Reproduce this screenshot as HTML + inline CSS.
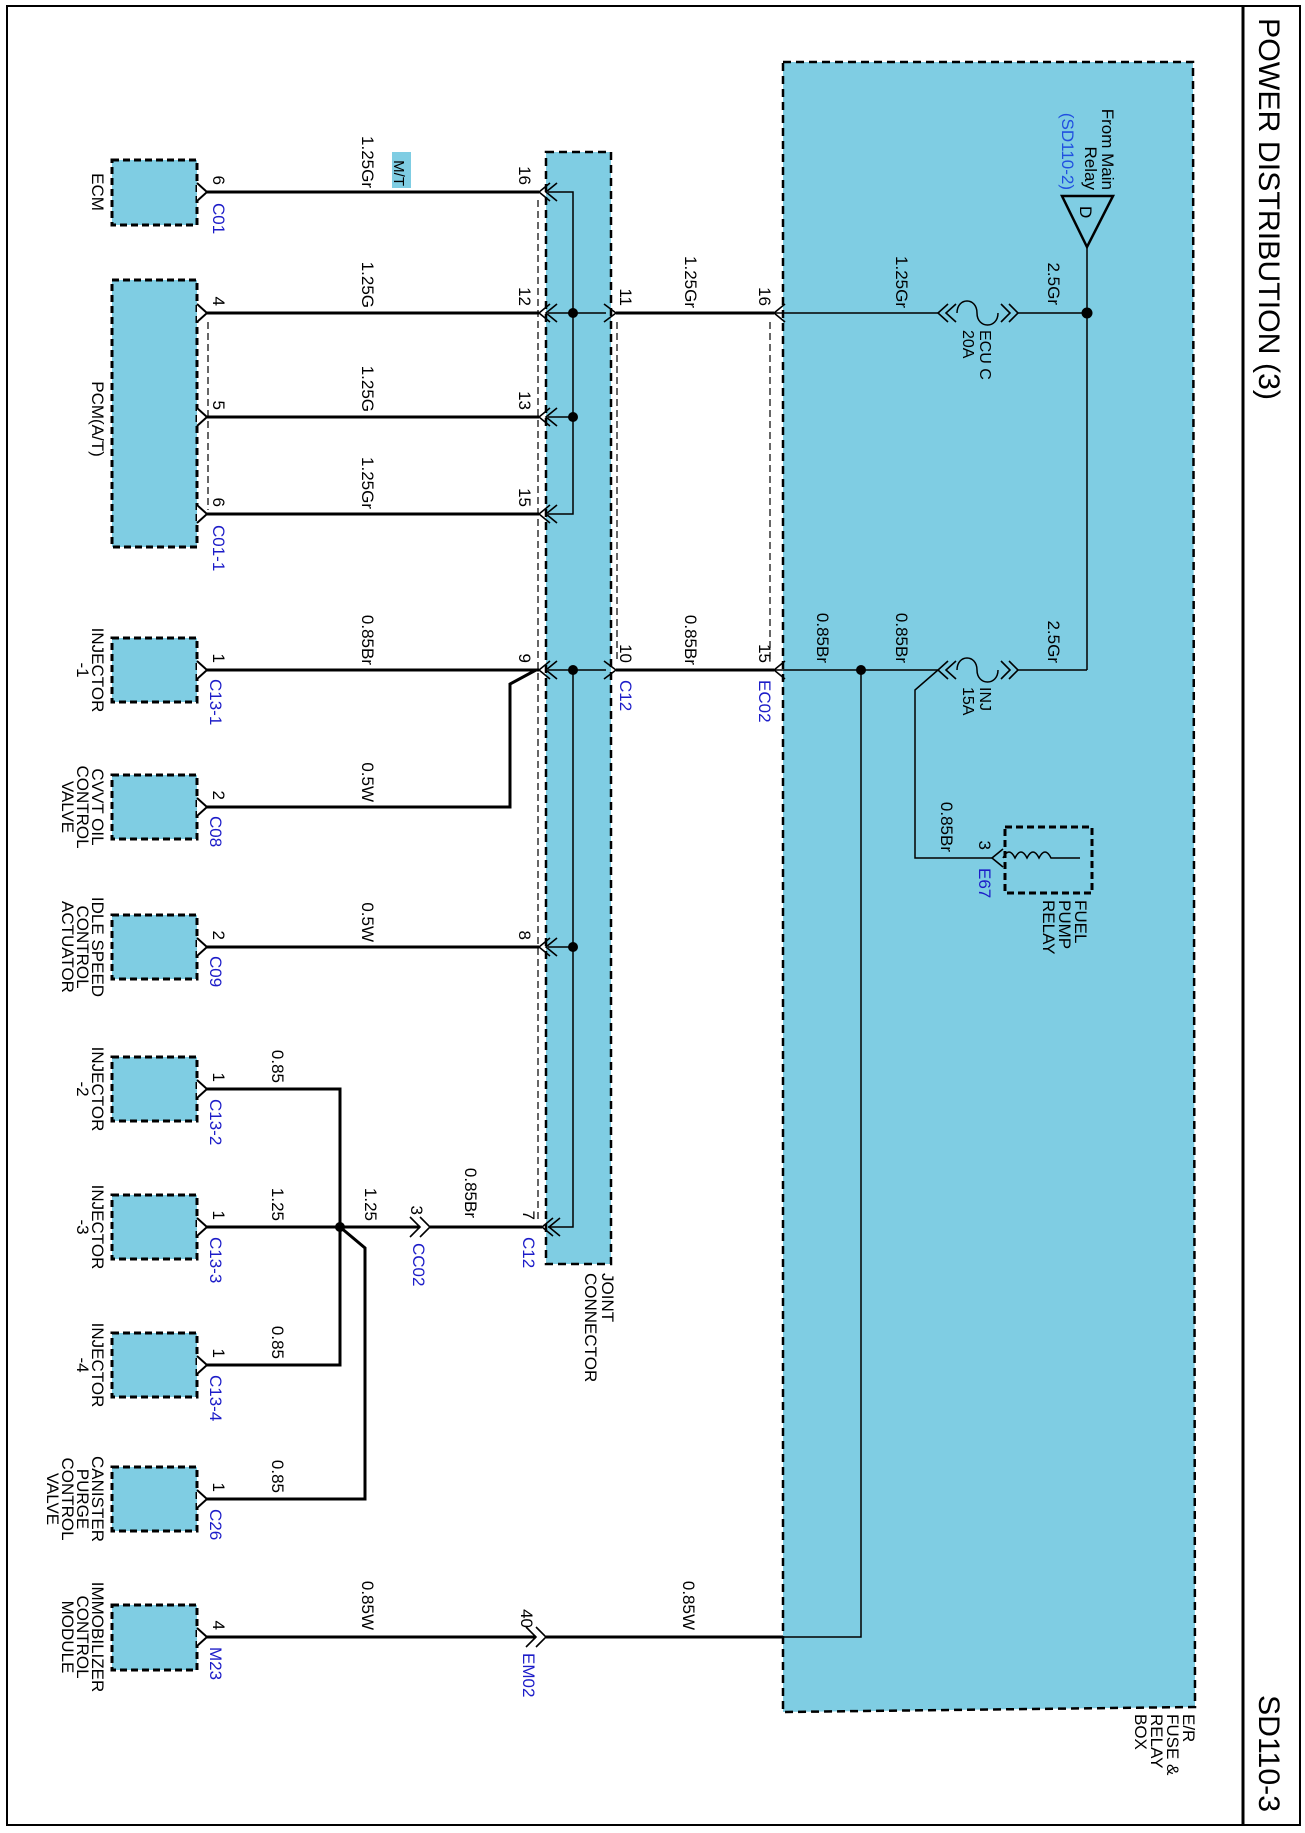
<!DOCTYPE html>
<html><head><meta charset="utf-8"><style>
html,body{margin:0;padding:0;background:#fff}
svg{display:block}
text{font-family:"Liberation Sans",Arial,sans-serif;font-size:17px;fill:#000}
.b{fill:#1c1cc8}
.t{font-size:16px}
</style></head><body>
<svg width="1305" height="1833" viewBox="0 0 1305 1833" xmlns="http://www.w3.org/2000/svg">
<rect x="7" y="6" width="1293" height="1819" fill="none" stroke="#000" stroke-width="2"/>
<line x1="1243" y1="6" x2="1243" y2="1825" stroke="#000" stroke-width="3"/>
<text transform="translate(1259 18) rotate(90)" style="font-size:30px" textLength="382" lengthAdjust="spacingAndGlyphs">POWER DISTRIBUTION (3)</text>
<text transform="translate(1259 1695) rotate(90)" style="font-size:30px" textLength="117" lengthAdjust="spacingAndGlyphs">SD110-3</text>

<polygon points="783,62 1193,62 1195,1707 783,1712" fill="#7fcde3" stroke="#000" stroke-width="2.5" stroke-dasharray="8 5"/>
<g class="t">
<text transform="translate(1183 1714) rotate(90)">E/R</text>
<text transform="translate(1167 1714) rotate(90)">FUSE &amp;</text>
<text transform="translate(1151 1714) rotate(90)">RELAY</text>
<text transform="translate(1135 1714) rotate(90)">BOX</text>
</g>

<rect x="546" y="152" width="65" height="1112" fill="#7fcde3" stroke="#000" stroke-width="2.5" stroke-dasharray="8 5"/>
<text transform="translate(602 1273) rotate(90)">JOINT</text>
<text transform="translate(585 1273) rotate(90)">CONNECTOR</text>

<g stroke="#000" stroke-width="1.2" stroke-dasharray="7 4" fill="none">
<line x1="538" y1="200" x2="538" y2="1220"/>
<line x1="208" y1="322" x2="208" y2="510"/>
<line x1="617" y1="322" x2="617" y2="662"/>
<line x1="770" y1="322" x2="770" y2="662"/>
</g>

<g fill="#7fcde3" stroke="#000" stroke-width="3" stroke-dasharray="7 4">
<rect x="112" y="160" width="85" height="65"/>
<rect x="112" y="280" width="85" height="267"/>
<rect x="112" y="638" width="85" height="64"/>
<rect x="112" y="775" width="85" height="64"/>
<rect x="112" y="915" width="85" height="64"/>
<rect x="112" y="1057" width="85" height="64"/>
<rect x="112" y="1195" width="85" height="64"/>
<rect x="112" y="1333" width="85" height="64"/>
<rect x="112" y="1467" width="85" height="64"/>
<rect x="112" y="1605" width="85" height="65"/>
</g>

<g fill="#fff" stroke="#000" stroke-width="2">
<polyline points="197,183 207,192 197,201"/>
<polyline points="197,304 207,313 197,322"/>
<polyline points="197,408 207,417 197,426"/>
<polyline points="197,505 207,514 197,523"/>
<polyline points="197,661 207,670 197,679"/>
<polyline points="197,798 207,807 197,816"/>
<polyline points="197,938 207,947 197,956"/>
<polyline points="197,1080 207,1089 197,1098"/>
<polyline points="197,1218 207,1227 197,1236"/>
<polyline points="197,1356 207,1365 197,1374"/>
<polyline points="197,1490 207,1499 197,1508"/>
<polyline points="197,1628 207,1637 197,1646"/>
</g>

<g stroke="#000" stroke-width="3" fill="none">
<line x1="207" y1="192" x2="539" y2="192"/>
<line x1="207" y1="313" x2="539" y2="313"/>
<line x1="207" y1="417" x2="539" y2="417"/>
<line x1="207" y1="514" x2="539" y2="514"/>
<line x1="207" y1="670" x2="539" y2="670"/>
<polyline points="207,807 510,807 510,684 536,670"/>
<line x1="207" y1="947" x2="539" y2="947"/>
<polyline points="207,1089 340,1089 340,1365 207,1365"/>
<line x1="207" y1="1227" x2="420" y2="1227"/>
<polyline points="207,1499 365,1499 365,1248 340,1227"/>
<line x1="430" y1="1227" x2="542" y2="1227"/>
<line x1="207" y1="1637" x2="536" y2="1637"/>
<line x1="546" y1="1637" x2="783" y2="1637"/>
<line x1="616" y1="313" x2="774" y2="313"/>
<line x1="616" y1="670" x2="774" y2="670"/>
</g>

<g stroke="#000" stroke-width="1.5" fill="none">
<polyline points="548,192 573,192 573,514 548,514"/>
<line x1="548" y1="313" x2="606" y2="313"/>
<line x1="548" y1="417" x2="573" y2="417"/>
<line x1="548" y1="670" x2="606" y2="670"/>
<polyline points="573,670 573,1227 548,1227"/>
<line x1="548" y1="947" x2="573" y2="947"/>
<line x1="774" y1="313" x2="938" y2="313"/>
<line x1="1017" y1="313" x2="1087" y2="313"/>
<line x1="1087" y1="247" x2="1087" y2="670"/>
<line x1="1017" y1="670" x2="1087" y2="670"/>
<line x1="774" y1="670" x2="938" y2="670"/>
<polyline points="861,670 861,1637 783,1637"/>
<polyline points="938,670 915,690 915,858 992,858"/>
<path d="M957,313 C957,297 977,297 977,313 C977,329 998,329 998,313"/>
<path d="M957,670 C957,654 977,654 977,670 C977,686 998,686 998,670"/>
</g>

<g stroke="#000" stroke-width="1.6" fill="none">
<polyline points="550,183 539,192 550,201"/><polyline points="557,183 546,192 557,201"/>
<polyline points="550,304 539,313 550,322"/><polyline points="557,304 546,313 557,322"/>
<polyline points="550,408 539,417 550,426"/><polyline points="557,408 546,417 557,426"/>
<polyline points="550,505 539,514 550,523"/><polyline points="557,505 546,514 557,523"/>
<polyline points="550,661 539,670 550,679"/><polyline points="557,661 546,670 557,679"/>
<polyline points="550,938 539,947 550,956"/><polyline points="557,938 546,947 557,956"/>
<polyline points="553,1218 542,1227 553,1236"/><polyline points="560,1218 549,1227 560,1236"/>
<polyline points="604,304 616,313 604,322"/>
<polyline points="604,661 616,670 604,679"/>
<polyline points="785,304 774,313 785,322"/>
<polyline points="785,661 774,670 785,679"/>
<polyline points="410,1217 420,1227 410,1237"/><polyline points="420,1217 430,1227 420,1237"/>
<polyline points="526,1627 536,1637 526,1647"/><polyline points="536,1627 546,1637 536,1647"/>
<polyline points="948,304 938,313 948,322"/><polyline points="956,304 946,313 956,322"/>
<polyline points="1001,304 1010,313 1001,322"/><polyline points="1009,304 1018,313 1009,322"/>
<polyline points="948,661 938,670 948,679"/><polyline points="956,661 946,670 956,679"/>
<polyline points="1001,661 1010,670 1001,679"/><polyline points="1009,661 1018,670 1009,679"/>
<polyline points="1003,849 992,858 1003,867"/>
</g>

<g fill="#000">
<circle cx="573" cy="313" r="5"/><circle cx="573" cy="417" r="5"/>
<circle cx="573" cy="670" r="5"/><circle cx="573" cy="947" r="5"/>
<circle cx="340" cy="1227" r="5"/><circle cx="1087" cy="313" r="5.5"/>
<circle cx="861" cy="670" r="5"/>
</g>

<polygon points="1062,196 1113,196 1087,247" fill="none" stroke="#000" stroke-width="2.5"/>
<text transform="translate(1080 206) rotate(90)">D</text>
<text transform="translate(1102 190) rotate(90)" text-anchor="end">From Main</text>
<text transform="translate(1085 190) rotate(90)" text-anchor="end">Relay</text>
<text transform="translate(1062 190) rotate(90)" text-anchor="end" style="fill:#2050e0">(SD110-2)</text>

<rect x="1005" y="827" width="87" height="66" fill="none" stroke="#000" stroke-width="3" stroke-dasharray="7 4"/>
<path d="M1003,858 q6,-12 12,0 q6,-12 12,0 q6,-12 12,0 q6,-12 12,0 L1080,858" fill="none" stroke="#000" stroke-width="1.5"/>
<g class="t">
<text transform="translate(1075 900) rotate(90)">FUEL</text>
<text transform="translate(1059 900) rotate(90)">PUMP</text>
<text transform="translate(1043 900) rotate(90)">RELAY</text>
</g>
<text transform="translate(979 850) rotate(90)" text-anchor="end">3</text>
<text class="b" transform="translate(979 868) rotate(90)">E67</text>
<text transform="translate(941 852) rotate(90)" text-anchor="end">0.85Br</text>

<text class="t" transform="translate(980 330) rotate(90)">ECU C</text>
<text class="t" transform="translate(963 330) rotate(90)">20A</text>
<text class="t" transform="translate(980 687) rotate(90)">INJ</text>
<text class="t" transform="translate(963 687) rotate(90)">15A</text>

<g text-anchor="end">
<text transform="translate(362 188) rotate(90)">1.25Gr</text>
<text transform="translate(362 308) rotate(90)">1.25G</text>
<text transform="translate(362 412) rotate(90)">1.25G</text>
<text transform="translate(362 509) rotate(90)">1.25Gr</text>
<text transform="translate(362 665) rotate(90)">0.85Br</text>
<text transform="translate(362 802) rotate(90)">0.5W</text>
<text transform="translate(362 942) rotate(90)">0.5W</text>
<text transform="translate(272 1083) rotate(90)">0.85</text>
<text transform="translate(272 1221) rotate(90)">1.25</text>
<text transform="translate(272 1359) rotate(90)">0.85</text>
<text transform="translate(272 1493) rotate(90)">0.85</text>
<text transform="translate(365 1221) rotate(90)">1.25</text>
<text transform="translate(465 1218) rotate(90)">0.85Br</text>
<text transform="translate(362 1630) rotate(90)">0.85W</text>
<text transform="translate(685 308) rotate(90)">1.25Gr</text>
<text transform="translate(685 665) rotate(90)">0.85Br</text>
<text transform="translate(683 1630) rotate(90)">0.85W</text>
<text transform="translate(896 308) rotate(90)">1.25Gr</text>
<text transform="translate(1048 305) rotate(90)">2.5Gr</text>
<text transform="translate(1048 663) rotate(90)">2.5Gr</text>
<text transform="translate(817 663) rotate(90)">0.85Br</text>
<text transform="translate(896 663) rotate(90)">0.85Br</text>
</g>
<rect x="392" y="152" width="19" height="36" fill="#7fcde3"/>
<text transform="translate(394 186) rotate(90)" text-anchor="end" style="font-size:15px">M/T</text>

<g text-anchor="end">
<text transform="translate(213 185) rotate(90)">6</text>
<text transform="translate(213 306) rotate(90)">4</text>
<text transform="translate(213 410) rotate(90)">5</text>
<text transform="translate(213 507) rotate(90)">6</text>
<text transform="translate(213 663) rotate(90)">1</text>
<text transform="translate(213 800) rotate(90)">2</text>
<text transform="translate(213 940) rotate(90)">2</text>
<text transform="translate(213 1082) rotate(90)">1</text>
<text transform="translate(213 1220) rotate(90)">1</text>
<text transform="translate(213 1358) rotate(90)">1</text>
<text transform="translate(213 1492) rotate(90)">1</text>
<text transform="translate(213 1630) rotate(90)">4</text>
<text transform="translate(519 185) rotate(90)">16</text>
<text transform="translate(519 306) rotate(90)">12</text>
<text transform="translate(519 410) rotate(90)">13</text>
<text transform="translate(519 507) rotate(90)">15</text>
<text transform="translate(519 663) rotate(90)">9</text>
<text transform="translate(519 940) rotate(90)">8</text>
<text transform="translate(523 1220) rotate(90)">7</text>
<text transform="translate(620 306) rotate(90)">11</text>
<text transform="translate(620 663) rotate(90)">10</text>
<text transform="translate(759 306) rotate(90)">16</text>
<text transform="translate(759 663) rotate(90)">15</text>
<text transform="translate(411 1215) rotate(90)">3</text>
<text transform="translate(521 1628) rotate(90)">40</text>
</g>

<g class="b">
<text class="b" transform="translate(213 203) rotate(90)">C01</text>
<text class="b" transform="translate(213 525) rotate(90)">C01-1</text>
<text class="b" transform="translate(210 679) rotate(90)">C13-1</text>
<text class="b" transform="translate(210 816) rotate(90)">C08</text>
<text class="b" transform="translate(210 956) rotate(90)">C09</text>
<text class="b" transform="translate(210 1099) rotate(90)">C13-2</text>
<text class="b" transform="translate(210 1237) rotate(90)">C13-3</text>
<text class="b" transform="translate(210 1375) rotate(90)">C13-4</text>
<text class="b" transform="translate(210 1509) rotate(90)">C26</text>
<text class="b" transform="translate(210 1647) rotate(90)">M23</text>
<text class="b" transform="translate(620 680) rotate(90)">C12</text>
<text class="b" transform="translate(759 680) rotate(90)">EC02</text>
<text class="b" transform="translate(413 1243) rotate(90)">CC02</text>
<text class="b" transform="translate(523 1237) rotate(90)">C12</text>
<text class="b" transform="translate(523 1653) rotate(90)">EM02</text>
</g>

<g text-anchor="middle">
<text transform="translate(92 192) rotate(90)">ECM</text>
<text transform="translate(92 419) rotate(90)">PCM(A/T)</text>
<text transform="translate(92 670) rotate(90)">INJECTOR</text>
<text transform="translate(77 670) rotate(90)">-1</text>
<text transform="translate(92 807) rotate(90)">CVVT OIL</text>
<text transform="translate(77 807) rotate(90)">CONTROL</text>
<text transform="translate(62 807) rotate(90)">VALVE</text>
<text transform="translate(92 947) rotate(90)">IDLE SPEED</text>
<text transform="translate(77 947) rotate(90)">CONTROL</text>
<text transform="translate(62 947) rotate(90)">ACTUATOR</text>
<text transform="translate(92 1089) rotate(90)">INJECTOR</text>
<text transform="translate(77 1089) rotate(90)">-2</text>
<text transform="translate(92 1227) rotate(90)">INJECTOR</text>
<text transform="translate(77 1227) rotate(90)">-3</text>
<text transform="translate(92 1365) rotate(90)">INJECTOR</text>
<text transform="translate(77 1365) rotate(90)">-4</text>
<text transform="translate(92 1499) rotate(90)">CANISTER</text>
<text transform="translate(77 1499) rotate(90)">PURGE</text>
<text transform="translate(62 1499) rotate(90)">CONTROL</text>
<text transform="translate(47 1499) rotate(90)">VALVE</text>
<text transform="translate(92 1637) rotate(90)">IMMOBILIZER</text>
<text transform="translate(77 1637) rotate(90)">CONTROL</text>
<text transform="translate(62 1637) rotate(90)">MODULE</text>
</g>
</svg>
</body></html>
